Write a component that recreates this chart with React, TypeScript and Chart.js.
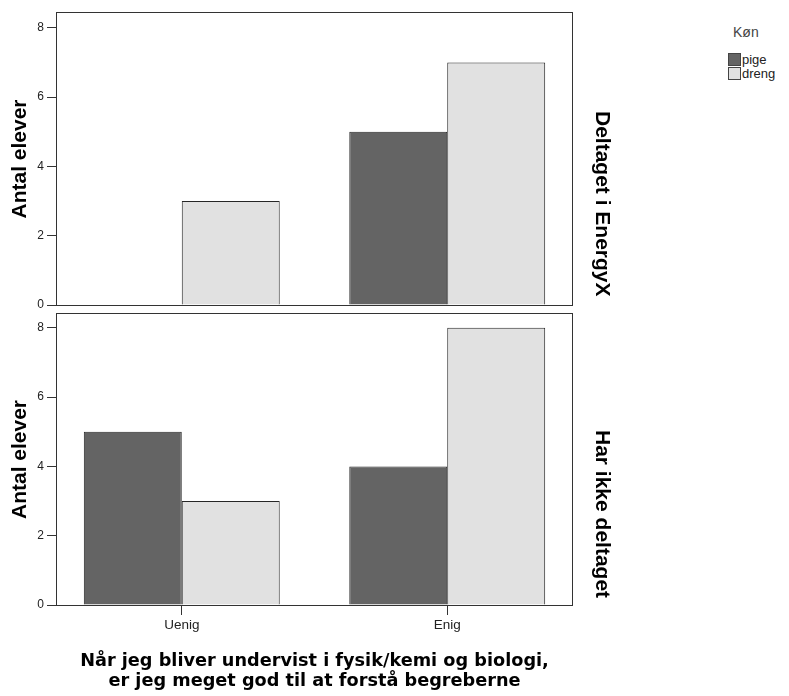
import React, { useEffect, useRef } from 'react';
import { Chart, registerables } from 'chart.js';

Chart.register(...registerables);

// ---- data ----
const categories = ['Uenig', 'Enig'];
const seriesNames = ['pige', 'dreng'];
const deltagetPige = [0, 5];
const deltagetDreng = [3, 7];
const ikkeDeltagetPige = [5, 4];
const ikkeDeltagetDreng = [3, 8];
const yTickValues = [0, 2, 4, 6, 8];
const panelLabels = ['Deltaget i EnergyX', 'Har ikke deltaget'];
const yTitle = 'Antal elever';
const xTitle = [
  'Når jeg bliver undervist i fysik/kemi og biologi,',
  'er jeg meget god til at forstå begreberne',
];
const legendTitle = 'Køn';

// ---- styles ----
const seriesColors = ['#646464', '#e1e1e1'];
const SANS = '"Liberation Sans", Arial, sans-serif';
const TITLE_FONT = '"DejaVu Sans", Verdana, sans-serif';

const framePlugin = {
  id: 'frame',
  afterDraw(chart: any) {
    const { ctx, chartArea: a } = chart;
    ctx.save();
    ctx.strokeStyle = '#333';
    ctx.lineWidth = 1;
    ctx.strokeRect(a.left - 0.5, a.top - 0.5, a.right - a.left + 1, a.bottom - a.top + 1);
    ctx.restore();
  },
};

function makePanel(canvas: HTMLCanvasElement, pige: number[], dreng: number[], bottom: boolean, yMax: number) {
  const mk = (vals: number[]) => categories.map((_, i) => ({ x: i, y: vals[i] }));
  return new Chart(canvas, {
    type: 'bar',
    data: {
      datasets: [
        {
          label: seriesNames[0],
          data: mk(pige),
          backgroundColor: seriesColors[0],
          borderColor: '#262626',
          borderWidth: 1,
          categoryPercentage: 0.738,
          barPercentage: 1,
        },
        {
          label: seriesNames[1],
          data: mk(dreng),
          backgroundColor: seriesColors[1],
          borderColor: '#262626',
          borderWidth: 1,
          categoryPercentage: 0.738,
          barPercentage: 1,
        },
      ],
    },
    options: {
      responsive: false,
      animation: false,
      devicePixelRatio: 1,
      layout: { padding: bottom ? { top: 14, right: 28, bottom: 0, left: 0 } : { top: 13, right: 28, bottom: 11, left: 0 } },
      plugins: { legend: { display: false }, tooltip: { enabled: false } },
      scales: {
        x: {
          type: 'linear',
          min: -0.47,
          max: 1.47,
          offset: false,
          display: bottom,
          grid: { offset: false, drawOnChartArea: false, drawTicks: true, tickLength: 10, color: '#333', lineWidth: 1 },
          border: { display: false },
          afterBuildTicks: (s: any) => {
            s.ticks = categories.map((_, i) => ({ value: i }));
          },
          afterFit: (s: any) => {
            if (bottom) s.height = 91;
            s.paddingLeft = 0;
            s.paddingRight = 0;
          },
          ticks: {
            autoSkip: false,
            maxRotation: 0,
            padding: 2,
            color: '#222',
            font: { family: SANS, size: 13.5 },
            callback: (v: any) => categories[v] ?? '',
          },
          title: {
            display: true,
            text: xTitle,
            color: '#000',
            font: { family: TITLE_FONT, weight: 'bold', size: 17.7, lineHeight: 20 / 17.7 },
            padding: { top: 0, bottom: 5 },
          },
        },
        y: {
          min: 0,
          max: yMax,
          grid: { drawOnChartArea: false, drawTicks: true, tickLength: 10, color: '#333', lineWidth: 1 },
          border: { display: false },
          afterBuildTicks: (s: any) => {
            s.ticks = yTickValues.map((v) => ({ value: v }));
          },
          afterFit: (s: any) => {
            s.width = 57;
            s.paddingTop = 0;
            s.paddingBottom = 0;
          },
          ticks: {
            padding: 3,
            color: '#222',
            font: { family: SANS, size: 12 },
          },
          title: {
            display: true,
            text: yTitle,
            color: '#000',
            font: { family: SANS, weight: 'bold', size: 21 },
            padding: { top: 8, bottom: 0 },
          },
        },
      },
    },
    plugins: [framePlugin],
  } as any);
}

export default function App() {
  const topRef = useRef<HTMLCanvasElement>(null);
  const botRef = useRef<HTMLCanvasElement>(null);

  useEffect(() => {
    const c1 = makePanel(topRef.current!, deltagetPige, deltagetDreng, false, 8.43);
    const c2 = makePanel(botRef.current!, ikkeDeltagetPige, ikkeDeltagetDreng, true, 8.4);
    return () => {
      c1.destroy();
      c2.destroy();
    };
  }, []);

  const sideLabel = (text: string, top: number) => (
    <div
      style={{
        position: 'absolute',
        left: 591,
        top,
        width: 24,
        lineHeight: '24px',
        writingMode: 'vertical-rl',
        fontFamily: SANS,
        fontWeight: 'bold',
        fontSize: 21,
        color: '#000',
        whiteSpace: 'nowrap',
      }}
    >
      {text}
    </div>
  );

  return (
    <div style={{ position: 'absolute', left: 0, top: 0, width: 789, height: 696, background: '#fff', overflow: 'hidden' }}>
      <canvas ref={botRef} width={600} height={396} style={{ position: 'absolute', left: 0, top: 300 }} />
      <canvas ref={topRef} width={600} height={316} style={{ position: 'absolute', left: 0, top: 0 }} />
      {sideLabel(panelLabels[0], 111)}
      {sideLabel(panelLabels[1], 430)}
      <div style={{ position: 'absolute', left: 733, top: 24, fontFamily: SANS, fontSize: 14, color: '#444' }}>{legendTitle}</div>
      {seriesNames.map((name, i) => (
        <div key={name} style={{ position: 'absolute', left: 728, top: 52 + i * 14, height: 14, display: 'flex', alignItems: 'center', fontFamily: SANS, fontSize: 13, color: '#222' }}>
          <span style={{ display: 'inline-block', width: 11, height: 11, background: seriesColors[i], border: '1px solid #444', marginRight: 1 }} />
          <span>{name}</span>
        </div>
      ))}
    </div>
  );
}
